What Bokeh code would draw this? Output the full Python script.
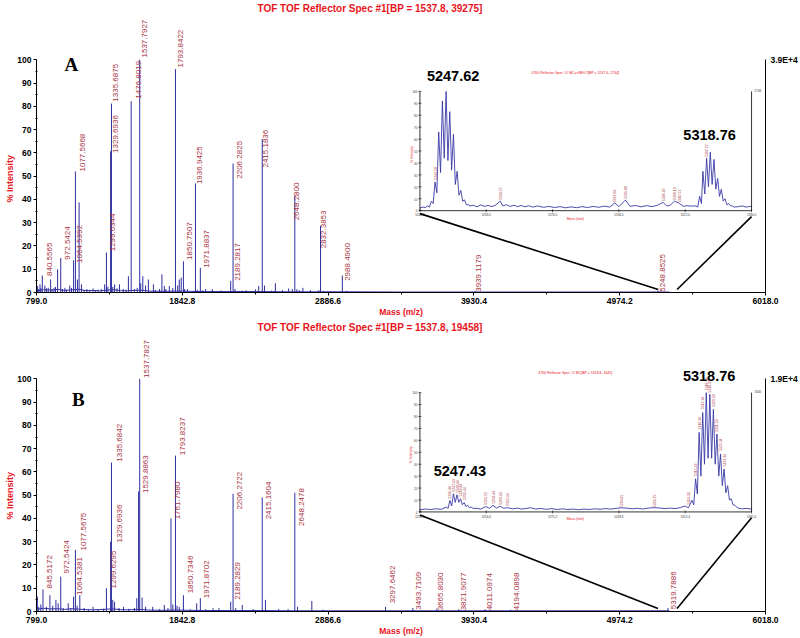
import math
from bokeh.plotting import figure
from bokeh.models import Range1d, LinearAxis, FixedTicker, PrintfTickFormatter, Title
from bokeh.layouts import column
from bokeh.embed import file_html
from bokeh.resources import INLINE
from bokeh.core.properties import value

# ---------------- shared axis values ----------------
mass_ticks = [799.0, 1842.8, 2886.6, 3930.4, 4974.2, 6018.0]
mass_minor = [1320.9, 2364.7, 3408.5, 4452.3, 5496.1]
int_ticks = [0, 10, 20, 30, 40, 50, 60, 70, 80, 90, 100]
int_minor = [5, 15, 25, 35, 45, 55, 65, 75, 85, 95]
x_label = "Mass (m/z)"
y_label = "% Intensity"

# ---------------- panel A ----------------
a_letter = "A"
a_title = "TOF TOF Reflector Spec #1[BP = 1537.8, 39275]"
a_max = "3.9E+4"
a_mz = [807, 815, 824, 830, 840.56, 859, 870, 883, 900, 910,
        924, 935, 950, 972.54, 985, 1002, 1015, 1037, 1050, 1064.54,
        1077.57, 1092, 1104, 1121, 1140, 1160, 1180, 1204, 1220, 1240,
        1263, 1287, 1299.63, 1310, 1329.69, 1335.69, 1345, 1358, 1375, 1393,
        1420, 1440, 1457, 1476.80, 1500, 1520, 1537.79, 1545, 1560, 1580,
        1600, 1636, 1650, 1680, 1697, 1714, 1725, 1750, 1775, 1793.84,
        1810, 1821, 1835, 1850.75, 1860, 1880, 1936.94, 1950, 1971.88, 1990,
        2010, 2058, 2120, 2189.28, 2206.28, 2220, 2248, 2270, 2300, 2366,
        2390, 2415.18, 2431, 2480, 2509, 2560, 2604, 2630, 2648.28, 2663,
        2680, 2706, 2760, 2820, 2832.39, 2853, 2900, 2988.49, 3019, 3939.12,
        5248.85]
a_int = [2.8, 1.5, 3.5, 2.0, 7.3, 3.0, 1.8, 2.0, 5.6, 1.5,
         2.0, 2.4, 10.0, 14.8, 1.5, 2.0, 1.2, 3.0, 2.0, 13.8,
         52.0, 5.6, 38.7, 3.5, 1.2, 1.5, 1.0, 1.7, 1.0, 1.2,
         1.4, 3.5, 17.2, 2.5, 60.7, 81.2, 2.4, 3.5, 1.8, 3.5,
         1.5, 1.2, 7.0, 82.2, 1.5, 2.0, 100.0, 4.0, 7.0, 3.0,
         5.6, 3.5, 1.0, 1.5, 7.8, 2.8, 1.5, 2.8, 2.0, 96.0,
         3.0, 5.6, 6.4, 13.4, 1.5, 1.4, 46.9, 1.2, 10.6, 1.0,
         1.5, 1.4, 0.8, 5.0, 55.4, 1.5, 0.7, 0.8, 1.0, 1.4,
         2.8, 66.0, 3.0, 0.8, 4.0, 1.0, 1.7, 1.5, 41.7, 1.4,
         1.0, 2.0, 1.0, 1.0, 28.7, 0.7, 0.5, 7.3, 0.7, 0.6,
         0.8]
a_base_mz = [805, 850, 900, 950, 1000, 1050, 1100, 1150, 1200, 1250, 1300, 1350, 1400,
             1450, 1500, 1550, 1600, 1700, 1800, 1900, 2000, 2200, 2400, 2600, 2800,
             3000, 3400, 3800, 4200, 4600, 5000, 5330]
a_base_int = [0.8, 1.2, 1.0, 1.3, 0.9, 1.1, 1.4, 0.8, 0.9, 0.7, 1.0, 1.2, 0.8,
              0.7, 0.9, 1.0, 0.6, 0.5, 0.6, 0.5, 0.4, 0.4, 0.4, 0.3, 0.3,
              0.3, 0.2, 0.2, 0.2, 0.2, 0.2, 0.2]
a_lab_text = ["840.5565", "972.5424", "1064.5392", "1077.5668", "1299.6344", "1329.6936",
              "1335.6875", "1476.8019", "1537.7927", "1793.8422", "1850.7507", "1936.9425",
              "1971.8837", "2189.2817", "2206.2825", "2415.1836", "2648.2800", "2832.3853",
              "2988.4900", "3939.1179", "5248.8525"]
a_lab_mz = [875, 1001, 1089, 1113, 1322, 1350, 1350, 1510, 1553, 1814, 1874, 1949,
            1997, 2218, 2234, 2420, 2646, 2836, 3009, 3943, 5264]
a_lab_int = [7.1, 14.1, 12.7, 52.0, 17.7, 60.0, 82.0, 83.3, 101.0, 96.7, 14.0, 46.6,
             10.6, 5.0, 48.9, 53.7, 31.0, 19.0, 5.0, 0.3, 0.3]

# inset A
ia_title = "4700 Reflector Spec #1 MC=>NF0.7[BP = 5247.6, 2744]"
ia_max = "2744"
ia_range = (5240.0, 5330.0)
ia_ticks = [5240.0, 5258.0, 5276.0, 5294.0, 5312.0, 5330.0]
ia_peak_mz = [5242.1, 5243.1, 5244.1, 5245.1, 5246.1, 5247.1, 5248.1, 5249.1, 5250.1, 5251.1, 5252.1, 5253.1,
              5314.9, 5315.9, 5316.8, 5317.8, 5318.8, 5319.8, 5320.8, 5321.8, 5322.8, 5323.8, 5324.8]
ia_peak_int = [4, 8, 24, 66, 92, 100, 83, 64, 33, 17, 9, 5,
               4, 12, 33, 44, 49, 43, 27, 18, 10, 6, 4]
ia_valley_int = [3, 6, 15, 32, 44, 42, 34, 22, 13, 8, 5, 4,
                 3, 6, 14, 20, 22, 18, 12, 8, 5, 4, 3]
ia_noise_mz = [5240.0, 5240.8, 5241.5, 5254.5, 5255.5, 5256.5, 5257.5, 5258.5, 5259.5, 5260.5,
               5261.8, 5262.5, 5263.5, 5264.5, 5265.5, 5266.5, 5267.5, 5268.5, 5269.5, 5270.5,
               5272.0, 5273.5, 5275.0, 5276.5, 5278.0, 5279.5, 5281.0, 5282.5, 5284.0, 5285.5,
               5287.0, 5288.5, 5290.0, 5291.5, 5292.9, 5294.0, 5295.8, 5297.0, 5298.5, 5300.0,
               5301.5, 5303.0, 5304.5, 5306.0, 5307.0, 5308.0, 5309.1, 5310.5, 5311.5, 5312.5,
               5313.5, 5326.5, 5327.5, 5328.5, 5329.5, 5330.0]
ia_noise_int = [2.2, 3.0, 2.6, 4.5, 3.2, 4.8, 3.6, 4.4, 3.4, 4.6,
                8.0, 4.0, 5.0, 3.5, 4.6, 3.4, 4.4, 3.2, 4.2, 3.0,
                4.0, 2.8, 3.6, 2.6, 3.4, 2.4, 3.2, 2.5, 3.4, 2.6,
                3.6, 2.8, 3.8, 3.0, 6.5, 3.4, 9.0, 3.6, 4.4, 3.2,
                4.2, 3.4, 4.6, 7.0, 3.8, 4.8, 8.0, 6.0, 3.6, 4.2,
                3.8, 3.4, 4.0, 3.0, 3.6, 3.2]
ia_big_text = ["5247.62", "5318.76"]
ia_big_mz = [5249.0, 5318.6]
ia_big_int = [112.8, 63.2]
ia_small_text = ["5244.58", "5261.77", "5292.86", "5295.81", "5306.02", "5309.13", "5310.52", "5317.77"]
ia_small_mz = [5244.1, 5261.8, 5292.9, 5295.8, 5306.0, 5309.1, 5310.5, 5317.8]
ia_small_int = [26, 9, 7, 10, 8, 9, 7, 45]
ia_zoom_mz = [5250.0, 5385.0]

# ---------------- panel B ----------------
b_letter = "B"
b_title = "TOF TOF Reflector Spec #1[BP = 1537.8, 19458]"
b_max = "1.9E+4"
b_mz = [805, 815, 830, 845.52, 870, 895, 915, 938, 954, 972.54,
        990, 1026, 1045, 1064.54, 1077.57, 1090, 1109, 1140, 1170, 1204,
        1240, 1280, 1299.63, 1329.69, 1335.68, 1345, 1358, 1390, 1422, 1460,
        1500, 1517, 1529.89, 1537.78, 1555, 1580, 1631, 1680, 1714, 1740,
        1761.80, 1775, 1793.82, 1805, 1821, 1850.73, 1900, 1946, 1971.87, 2010,
        2063, 2105, 2189.28, 2206.27, 2225, 2272, 2350, 2415.16, 2438, 2533,
        2600, 2648.25, 2668, 2770, 2850, 3297.65, 3493.71, 3665.80, 3821.91, 4011.10,
        4194.09, 5319.79]
b_int = [6.4, 2.0, 3.0, 9.5, 2.0, 7.0, 2.5, 5.0, 3.5, 15.0,
         1.5, 3.5, 1.5, 6.4, 26.5, 2.5, 7.0, 1.5, 1.0, 2.0,
         1.0, 1.2, 10.0, 30.0, 64.0, 5.0, 4.2, 1.5, 2.0, 1.2,
         1.5, 5.7, 51.6, 100.0, 6.0, 2.0, 2.0, 1.0, 2.8, 1.5,
         40.0, 3.0, 67.0, 2.5, 2.0, 7.0, 1.0, 3.5, 5.7, 1.0,
         1.4, 1.4, 4.2, 50.6, 1.5, 2.8, 1.0, 49.0, 5.0, 1.0,
         1.0, 51.0, 2.0, 4.5, 0.8, 2.0, 1.5, 1.3, 1.0, 1.0,
         0.8, 1.5]
b_base_mz = [805, 850, 900, 950, 1000, 1050, 1100, 1150, 1200, 1250, 1300, 1350, 1400,
             1450, 1500, 1550, 1600, 1700, 1800, 1900, 2000, 2200, 2400, 2600, 2800,
             3000, 3400, 3800, 4200, 4600, 5000, 5330]
b_base_int = [1.0, 1.4, 1.1, 1.2, 0.9, 1.2, 1.0, 0.8, 0.7, 0.8, 1.0, 1.1, 0.8,
              0.7, 0.8, 0.9, 0.6, 0.5, 0.6, 0.5, 0.4, 0.4, 0.4, 0.3, 0.3,
              0.3, 0.3, 0.3, 0.3, 0.3, 0.3, 0.3]
b_lab_text = ["845.5172", "972.5424", "1064.5381", "1077.5675", "1299.6295", "1329.6936",
              "1335.6842", "1529.8863", "1537.7827", "1761.7980", "1793.8237", "1850.7346",
              "1971.8702", "2189.2829", "2206.2722", "2415.1604", "2648.2478", "3297.6462",
              "3493.7109", "3665.8030", "3821.9077", "4011.0974", "4194.0898", "5319.7886"]
b_lab_mz = [877, 999, 1091, 1120, 1334, 1377, 1377, 1562, 1566, 1790, 1826, 1883,
            1999, 2218, 2234, 2444, 2676, 3328, 3516, 3672, 3836, 4022, 4214, 5343]
b_lab_int = [9.9, 16.3, 7.1, 26.2, 9.9, 29.7, 64.4, 50.9, 100.4, 39.6, 67.2, 7.8,
             5.7, 5.0, 43.8, 39.6, 36.8, 3.5, 0.8, 0.5, 0.5, 0.5, 0.5, 1.0]

# inset B
ib_title = "4700 Reflector Spec #1 MC[BP = 5318.8, 1645]"
ib_max = "1645"
ib_range = (5238.0, 5331.0)
ib_ticks = [5238.0, 5256.6, 5275.2, 5293.8, 5312.4, 5331.0]
ib_peak_mz = [5245.4, 5246.4, 5247.4, 5248.4, 5249.4, 5250.4, 5251.4, 5252.4,
              5314.3, 5315.3, 5316.3, 5317.3, 5318.3, 5319.3, 5320.3, 5321.3, 5322.3,
              5323.3, 5324.3, 5325.3, 5326.3]
ib_peak_int = [4, 9.7, 15.3, 14.4, 11, 7.8, 5.6, 4,
               9.7, 27.8, 66.7, 83.3, 100, 98.6, 86, 65.3, 48.6, 36, 22, 11, 5.6]
ib_valley_int = [3, 5, 8, 8, 6, 4.5, 3.5, 3,
                 6, 15, 30, 40, 45, 45, 40, 30, 22, 16, 10, 6, 4]
ib_noise_mz = [5238.0, 5239.5, 5241.0, 5242.5, 5244.0, 5254.0, 5255.0, 5256.5, 5257.5, 5258.5,
               5259.5, 5260.5, 5261.5, 5262.5, 5264.0, 5265.5, 5266.5, 5268.0, 5269.0, 5270.5,
               5272.0, 5273.5, 5275.0, 5276.5, 5278.0, 5279.5, 5281.0, 5282.5, 5284.0, 5285.5,
               5287.0, 5288.5, 5290.0, 5291.5, 5293.0, 5294.5, 5296.0, 5297.5, 5299.0, 5300.5,
               5302.0, 5303.5, 5305.0, 5306.5, 5308.0, 5309.5, 5311.0, 5312.3, 5313.3, 5327.5,
               5328.5, 5329.5, 5331.0]
ib_noise_int = [1.8, 2.4, 2.0, 2.6, 2.2, 3.0, 2.4, 4.5, 3.0, 5.5,
                3.2, 4.8, 3.0, 3.6, 2.6, 3.2, 2.4, 3.0, 3.5, 2.4,
                2.9, 2.2, 2.8, 2.0, 2.6, 2.0, 2.4, 1.9, 2.4, 2.0,
                2.6, 2.2, 2.8, 2.4, 3.0, 3.4, 3.2, 2.6, 3.0, 2.5,
                3.2, 3.6, 3.4, 2.8, 3.2, 2.8, 3.6, 5.0, 3.5, 3.0,
                2.6, 3.0, 2.4]
ib_big_text = ["5318.76", "5247.43"]
ib_big_mz = [5319.1, 5249.2]
ib_big_int = [113.6, 33.9]
ib_small_text = ["5246.41", "5247.43", "5248.44", "5249.44", "5250.44", "5256.52", "5258.44",
                 "5260.43", "5262.43", "5294.45", "5303.75", "5313.31", "5315.33", "5316.34",
                 "5317.34", "5318.76", "5319.33", "5320.33", "5321.33", "5322.34", "5323.34"]
ib_small_mz = [5246.4, 5247.4, 5248.4, 5249.4, 5250.4, 5256.5, 5258.5, 5260.5, 5262.5, 5294.5,
               5303.8, 5313.3, 5315.3, 5316.3, 5317.3, 5318.3, 5319.3, 5320.3, 5321.3, 5322.3, 5323.3]
ib_small_int = [11, 17, 16, 13, 10, 6, 7, 6, 5, 4, 4, 6, 30, 69, 86, 102, 100, 88, 67, 51, 38]
ib_zoom_mz = [5248.0, 5385.0]

# ---------------- style / layout ----------------
SANS = "Liberation Sans"
SERIF = "Liberation Serif"
SPEC = "#2e2ea0"
INSET = "#3a3aa6"
LAB = "#a8323e"
RED = "#e8141c"
W = 800
FL, FR = 36, 768
X0, X1 = 799.0, 6018.0
PX_PER_PCT = 2.36

cfg_a = dict(page_top=0, height=319, frame_top=10, frame_bottom=293,
             title_left=257, ylab_start=203, letter=(71, 61.7),
             inset_box=(421, 754, 89, 210),
             in_title=(577, 70), in_xlab=(577, 218), in_ylab=(413, 153), in_max=(757, 88))
cfg_b = dict(page_top=319, height=319, frame_top=329, frame_bottom=612,
             title_left=257, ylab_start=520, letter=(78, 396.7),
             inset_box=(421, 754, 390, 511),
             in_title=(577, 370), in_xlab=(577, 518), in_ylab=(412, 453), in_max=(757, 389))

data_a = dict(letter=a_letter, title=a_title, max=a_max, mz=a_mz, inten=a_int,
              base_mz=a_base_mz, base_int=a_base_int, lab_text=a_lab_text, lab_mz=a_lab_mz,
              lab_int=a_lab_int, in_title=ia_title, in_max=ia_max, in_range=ia_range,
              in_ticks=ia_ticks, in_peak_mz=ia_peak_mz, in_peak_int=ia_peak_int,
              in_valley=ia_valley_int, in_noise_mz=ia_noise_mz, in_noise_int=ia_noise_int,
              in_big_text=ia_big_text, in_big_mz=ia_big_mz, in_big_int=ia_big_int,
              in_small_text=ia_small_text, in_small_mz=ia_small_mz, in_small_int=ia_small_int,
              zoom_mz=ia_zoom_mz)
data_b = dict(letter=b_letter, title=b_title, max=b_max, mz=b_mz, inten=b_int,
              base_mz=b_base_mz, base_int=b_base_int, lab_text=b_lab_text, lab_mz=b_lab_mz,
              lab_int=b_lab_int, in_title=ib_title, in_max=ib_max, in_range=ib_range,
              in_ticks=ib_ticks, in_peak_mz=ib_peak_mz, in_peak_int=ib_peak_int,
              in_valley=ib_valley_int, in_noise_mz=ib_noise_mz, in_noise_int=ib_noise_int,
              in_big_text=ib_big_text, in_big_mz=ib_big_mz, in_big_int=ib_big_int,
              in_small_text=ib_small_text, in_small_mz=ib_small_mz, in_small_int=ib_small_int,
              zoom_mz=ib_zoom_mz)


def style_axis(ax):
    ax.axis_line_color = "black"
    ax.axis_line_width = 1
    ax.major_tick_line_color = "black"
    ax.minor_tick_line_color = "black"
    ax.major_tick_in = 0
    ax.major_tick_out = 3
    ax.minor_tick_in = 1
    ax.minor_tick_out = 1
    ax.major_label_standoff = 2
    ax.major_label_text_font = SANS
    ax.major_label_text_font_style = "bold"
    ax.major_label_text_font_size = "8.5px"
    ax.major_label_text_color = "black"


def panel(d, c):
    top, h, ft, fb = c["page_top"], c["height"], c["frame_top"], c["frame_bottom"]
    y_top = (fb - ft) / PX_PER_PCT
    p = figure(width=W, height=h, x_range=Range1d(X0, X1), y_range=Range1d(0, y_top),
               x_axis_type=None, y_axis_type=None, output_backend="svg",
               toolbar_location=None,
               min_border_left=FL, min_border_right=W - FR,
               min_border_top=ft - top, min_border_bottom=top + h - fb)
    p.outline_line_color = None
    p.background_fill_color = "white"
    p.border_fill_color = "white"

    def dx(px):
        return X0 + (px - FL) * (X1 - X0) / (FR - FL)

    def dy(py):
        return (fb - py) * y_top / (fb - ft)

    # title above the frame
    t = Title(text=d["title"], align="left", offset=c["title_left"] - FL, standoff=0,
              text_font=SANS, text_font_size="10px", text_font_style="bold", text_color=RED)
    p.add_layout(t, "above")

    xa = LinearAxis(ticker=FixedTicker(ticks=mass_ticks, minor_ticks=mass_minor),
                    formatter=PrintfTickFormatter(format="%.1f"))
    style_axis(xa)
    xa.minor_tick_in = 0
    xa.minor_tick_out = 2
    xa.axis_label = x_label
    xa.axis_label_standoff = 0
    xa.axis_label_text_font = SANS
    xa.axis_label_text_font_size = "8.5px"
    xa.axis_label_text_font_style = "bold"
    xa.axis_label_text_color = RED
    p.add_layout(xa, "below")

    ya = LinearAxis(ticker=FixedTicker(ticks=int_ticks, minor_ticks=int_minor), bounds=(0, 100))
    style_axis(ya)
    p.add_layout(ya, "left")
    yt = Title(text=y_label, align="left", offset=fb - c["ylab_start"],
               standoff=0, text_font=SANS, text_font_size="9px", text_font_style="bold",
               text_color=RED)
    p.add_layout(yt, "left")

    ra = LinearAxis(ticker=FixedTicker(ticks=[100]), bounds=(0, 100),
                    major_label_overrides={100: d["max"]})
    style_axis(ra)
    ra.major_tick_out = 0
    ra.minor_tick_out = 0
    ra.minor_tick_in = 0
    ra.major_label_standoff = 5
    p.add_layout(ra, "right")

    # spectrum
    n = len(d["mz"])
    p.line(d["base_mz"], d["base_int"], line_color=SPEC, line_width=1)
    p.segment(x0=d["mz"], y0=[0] * n, x1=d["mz"], y1=d["inten"], line_color=SPEC, line_width=1.0)
    p.text(x=d["lab_mz"], y=d["lab_int"], text=d["lab_text"], angle=math.pi / 2,
           text_font=value(SANS), text_font_size="8px", text_color=LAB,
           text_align="left", text_baseline="top")

    lx, ly = c["letter"]
    p.text(x=[dx(lx)], y=[dy(ly)], text=[d["letter"]], text_font=value(SERIF),
           text_font_size="19px", text_font_style="bold", text_color="black",
           text_align="center", text_baseline="alphabetic")

    # inset (own ranges mapped onto the inset box)
    I0, I1 = d["in_range"]
    bx0, bx1, by100, by0 = c["inset_box"]
    sx = (I1 - I0) / (bx1 - bx0)
    sy = 100.0 / (by0 - by100)
    p.extra_x_ranges = {"ix": Range1d(I0 - (bx0 - FL) * sx, I1 + (FR - bx1) * sx)}
    p.extra_y_ranges = {"iy": Range1d(-(fb - by0) * sy, 100 + (by100 - ft) * sy)}

    def ix(px):
        return I0 + (px - bx0) * sx

    def iy(py):
        return (by0 - py) * sy

    kw = dict(x_range_name="ix", y_range_name="iy")

    pts = list(zip(d["in_noise_mz"], d["in_noise_int"]))
    for m, hh, v in zip(d["in_peak_mz"], d["in_peak_int"], d["in_valley"]):
        pts.append((m, hh))
        pts.append((m + 0.5, v))
    pts.sort()
    p.line([q[0] for q in pts], [q[1] for q in pts], line_color=INSET, line_width=0.9, **kw)

    p.segment(x0=[I0, I0, I1], y0=[0, 0, 0], x1=[I0, I1, I1], y1=[100, 0, 100],
              line_color="black", line_width=0.8, **kw)
    p.scatter(x=[I0] * len(int_ticks), y=int_ticks, marker="dash", size=3,
              line_color="black", line_width=0.6, **kw)
    nt = len(d["in_ticks"])
    p.scatter(x=d["in_ticks"], y=[0] * nt, marker="dash", angle=math.pi / 2, size=3,
              line_color="black", line_width=0.6, **kw)
    p.text(x=[I0] * len(int_ticks), y=int_ticks, text=[str(t) for t in int_ticks],
           x_offset=-2.5, text_align="right", text_baseline="middle",
           text_font=value(SANS), text_font_size="3px", text_color="#333333", **kw)
    p.text(x=d["in_ticks"], y=[0] * nt, text=["%.1f" % t for t in d["in_ticks"]],
           y_offset=2.5, text_align="center", text_baseline="top",
           text_font=value(SANS), text_font_size="3px", text_color="#333333", **kw)
    p.text(x=d["in_small_mz"], y=d["in_small_int"], text=d["in_small_text"], angle=math.pi / 2,
           text_font=value(SANS), text_font_size="3.5px", text_color=LAB,
           text_align="left", text_baseline="middle", **kw)
    p.text(x=d["in_big_mz"], y=d["in_big_int"], text=d["in_big_text"],
           text_font=value(SANS), text_font_size="14.5px", text_font_style="bold",
           text_color="black", text_align="center", text_baseline="middle", **kw)
    tx, ty = c["in_title"]
    p.text(x=[ix(tx)], y=[iy(ty)], text=[d["in_title"]], text_font=value(SANS),
           text_font_size="3.5px", text_color=RED, text_align="center",
           text_baseline="middle", **kw)
    tx, ty = c["in_xlab"]
    p.text(x=[ix(tx)], y=[iy(ty)], text=[x_label], text_font=value(SANS),
           text_font_size="3.5px", text_color=RED, text_align="center",
           text_baseline="middle", **kw)
    tx, ty = c["in_ylab"]
    p.text(x=[ix(tx)], y=[iy(ty)], text=[y_label], angle=math.pi / 2, text_font=value(SANS),
           text_font_size="3.5px", text_color=RED, text_align="center",
           text_baseline="middle", **kw)
    tx, ty = c["in_max"]
    p.text(x=[ix(tx)], y=[iy(ty)], text=[d["in_max"]], text_font=value(SANS),
           text_font_size="3px", text_color="#333333", text_align="left",
           text_baseline="middle", **kw)

    # connector lines from the inset to the zoomed mass region
    p.segment(x0=[dx(bx0), dx(bx1)], y0=[dy(by0 + 3), dy(by0 + 6)],
              x1=d["zoom_mz"], y1=[1.3, 1.3], line_color="black", line_width=1.6)
    return p


pa = panel(data_a, cfg_a)
pb = panel(data_b, cfg_b)
layout = column(pa, pb)
open("out.html", "w").write(file_html(layout, INLINE))
